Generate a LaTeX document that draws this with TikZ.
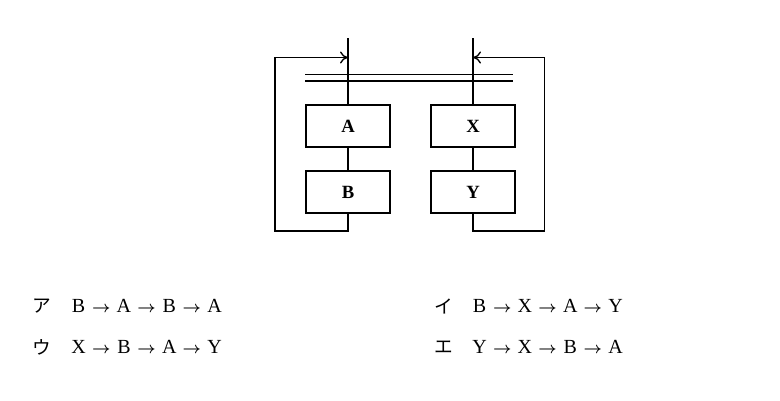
\documentclass[tikz,border=0pt]{standalone}
\usepackage{fontspec}
\setmainfont{Liberation Serif}
\newfontfamily\cjk{Noto Sans CJK JP}
\usetikzlibrary{arrows.meta}
\newcommand{\Lt}[1]{\makebox[14pt]{#1}}
\newcommand{\Ar}{\makebox[20pt]{\fontsize{13}{15}\selectfont$\boldsymbol{\rightarrow}$}}
\usepackage{amsmath,bm}
\begin{document}
\begin{tikzpicture}[x=0.75pt,y=-0.75pt,
  blk/.style={draw,line width=1pt,minimum width=63pt,minimum height=31.5pt,inner sep=0pt,font=\fontsize{14}{16}\selectfont\bfseries},
  ln/.style={line width=1pt},
  opt/.style={anchor=west,inner sep=0pt,font=\fontsize{15}{17}\selectfont},
  kana/.style={anchor=west,inner sep=0pt,font=\cjk\fontsize{14}{16}\selectfont}]
\useasboundingbox (0,0) rectangle (780,400);
% boxes
\node[blk] (A) at (348,126) {A};
\node[blk] (B) at (348,192) {B};
\node[blk] (X) at (473,126) {X};
\node[blk] (Y) at (473,192) {Y};
% coordinates
\coordinate (LT) at (348,38);
\coordinate (RT) at (473,38);
\coordinate (LB) at (348,231);
\coordinate (RB) at (473,231);
\coordinate (LL) at (275,57.5);
\coordinate (RR) at (544.5,57.5);
\coordinate (D1a) at (305,74.5);
\coordinate (D1b) at (513,74.5);
\coordinate (D2a) at (305,81);
\coordinate (D2b) at (513,81);
% vertical lines
\draw[ln] (LT) -- (A.north);
\draw[ln] (A.south) -- (B.north);
\draw[ln] (RT) -- (X.north);
\draw[ln] (X.south) -- (Y.north);
% double line
\draw[ln] (D1a) -- (D1b);
\draw[ln] (D2a) -- (D2b);
% feedback loops
\draw[ln,-{To[length=6pt,width=9pt,line width=1pt]}] (B.south) |- (LL |- LB) -- (LL) -- (LT |- LL);
\draw[ln,-{To[length=6pt,width=9pt,line width=1pt]}] (Y.south) |- (RR |- RB) -- (RR) -- (RT |- RR);
% options
\node[kana] (ka) at (32,306) {ア};
\node[opt] (oa) at (69,306) {\Lt{B}\Ar\Lt{A}\Ar\Lt{B}\Ar\Lt{A}};
\node[kana] (ki) at (434,306) {イ};
\node[opt] (oi) at (470,306) {\Lt{B}\Ar\Lt{X}\Ar\Lt{A}\Ar\Lt{Y}};
\node[kana] (ku) at (32,347) {ウ};
\node[opt] (ou) at (69,347) {\Lt{X}\Ar\Lt{B}\Ar\Lt{A}\Ar\Lt{Y}};
\node[kana] (ke) at (434,347) {エ};
\node[opt] (oe) at (470,347) {\Lt{Y}\Ar\Lt{X}\Ar\Lt{B}\Ar\Lt{A}};
\end{tikzpicture}
\end{document}
